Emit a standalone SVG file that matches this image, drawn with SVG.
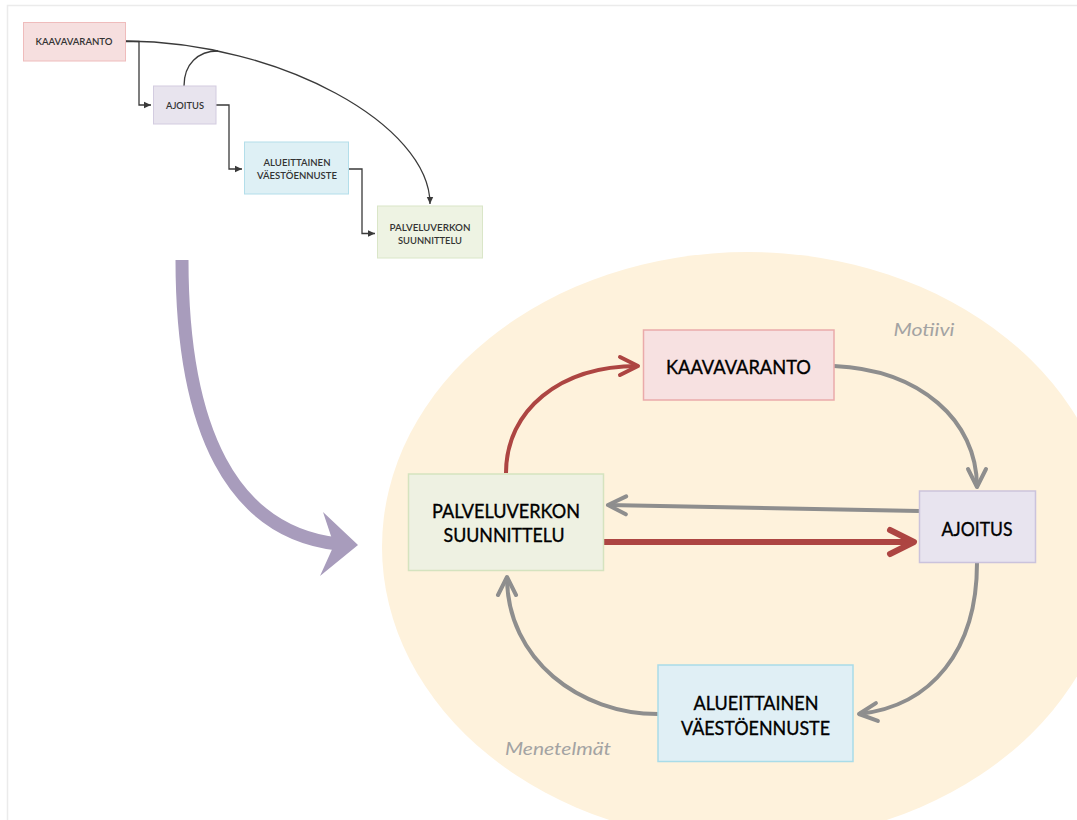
<svg xmlns="http://www.w3.org/2000/svg" width="1077" height="820" viewBox="0 0 1077 820">
<style>
.big{font-family:Lato,"Open Sans","Liberation Sans",sans-serif;font-size:20px;fill:#000;stroke:#000;stroke-width:0.35;text-anchor:middle}
.sm{font-family:Lato,"Open Sans","Liberation Sans",sans-serif;font-size:10px;fill:#333;text-anchor:middle;font-weight:600}
.lbl{font-family:Lato,"Open Sans","Liberation Sans",sans-serif;font-size:17px;fill:#a3a3a3;font-style:italic;text-anchor:middle}
.gc{fill:none;stroke:#8e8e8e;stroke-width:4}
.rc{fill:none;stroke:#ad4542;stroke-width:4}
.sc{fill:none;stroke:#3a3a3a;stroke-width:1.3}
</style>
<defs>
<marker id="gArr" markerUnits="userSpaceOnUse" markerWidth="30" markerHeight="30" refX="18" refY="0" orient="auto" overflow="visible"><path d="M0,-9 L18,0 L0,9" fill="none" stroke="#8e8e8e" stroke-width="4" stroke-linejoin="round" stroke-linecap="round"/></marker>
<marker id="rArr" markerUnits="userSpaceOnUse" markerWidth="30" markerHeight="30" refX="18" refY="0" orient="auto" overflow="visible"><path d="M0,-9 L18,0 L0,9" fill="none" stroke="#ad4542" stroke-width="4" stroke-linejoin="round" stroke-linecap="round"/></marker>
<marker id="rArrB" markerUnits="userSpaceOnUse" markerWidth="40" markerHeight="40" refX="24" refY="0" orient="auto" overflow="visible"><path d="M0,-12 L24,0 L0,12" fill="none" stroke="#ad4542" stroke-width="6" stroke-linejoin="round" stroke-linecap="round"/></marker>
<marker id="sArr" markerUnits="userSpaceOnUse" markerWidth="10" markerHeight="10" refX="7" refY="0" orient="auto" overflow="visible"><path d="M0,-3.2 L7,0 L0,3.2 z" fill="#3a3a3a"/></marker>
</defs>
<rect x="0" y="0" width="1077" height="820" fill="#ffffff"/>
<rect x="7.5" y="5.5" width="1200" height="900" fill="none" stroke="#ebebeb" stroke-width="1.5"/>
<ellipse cx="748" cy="547" rx="366" ry="295" fill="#fef2dc"/>
<text class="lbl" x="924" y="336" textLength="61" lengthAdjust="spacingAndGlyphs">Motiivi</text>
<text class="lbl" x="558" y="755" textLength="106" lengthAdjust="spacingAndGlyphs">Menetelmät</text>
<path d="M182,260 C182,430 232,532 338,544" fill="none" stroke="#a89cbc" stroke-width="13"/>
<polygon points="323,512 358,545 320,576 334,545" fill="#a89cbc"/>
<g id="connectors">
<path class="sc" d="M126,41.5 H139 V105 H151" marker-end="url(#sArr)"/>
<path class="sc" d="M216,105 H229 V169 H242" marker-end="url(#sArr)"/>
<path class="sc" d="M349,169 H362 V233.5 H375" marker-end="url(#sArr)"/>
<path class="sc" d="M126,41 C280,42 430,125 430,204" marker-end="url(#sArr)"/>
<path class="sc" d="M184,86 C184,64 198,51 218,51"/>
<path class="rc" d="M506,473 C506,410 560,366 638,366" marker-end="url(#rArr)"/>
<path class="gc" d="M834,366 C920,370 977,420 977,487" marker-end="url(#gArr)"/>
<path class="gc" d="M919,511 L608,505" marker-end="url(#gArr)"/>
<path d="M604,542 L914,542" fill="none" stroke="#ad4542" stroke-width="6" marker-end="url(#rArrB)"/>
<path class="gc" d="M977,563 C977,650 932,706 859,714" marker-end="url(#gArr)"/>
<path class="gc" d="M658,714 C580,714 507,660 507,577" marker-end="url(#gArr)"/>
</g>
<g id="s-kaava"><rect x="23.5" y="22.5" width="102" height="38.5" fill="#f6dfdf" stroke="#efbcbc"/><text class="sm" x="74" y="45" textLength="77" lengthAdjust="spacingAndGlyphs">KAAVAVARANTO</text></g>
<g id="s-ajoitus"><rect x="153.5" y="86" width="62.5" height="38" fill="#e8e4ee" stroke="#d3cce0"/><text class="sm" x="185" y="109" textLength="38" lengthAdjust="spacingAndGlyphs">AJOITUS</text></g>
<g id="s-alue"><rect x="244.5" y="142" width="104" height="52" fill="#def0f5" stroke="#b3deea"/><text class="sm" x="297" y="165.5" textLength="67" lengthAdjust="spacingAndGlyphs">ALUEITTAINEN</text><text class="sm" x="297" y="179" textLength="80" lengthAdjust="spacingAndGlyphs">VÄESTÖENNUSTE</text></g>
<g id="s-palv"><rect x="377.5" y="206" width="105" height="52" fill="#eef3e3" stroke="#dae6c8"/><text class="sm" x="430" y="230.5" textLength="81" lengthAdjust="spacingAndGlyphs">PALVELUVERKON</text><text class="sm" x="430" y="243.5" textLength="64" lengthAdjust="spacingAndGlyphs">SUUNNITTELU</text></g>
<g id="kaava"><rect x="643.5" y="330" width="190.5" height="70" fill="#f7e1e1" stroke="#eaaaaa" stroke-width="1.5"/><text class="big" x="738.5" y="374" textLength="145" lengthAdjust="spacingAndGlyphs">KAAVAVARANTO</text></g>
<g id="palv"><rect x="408.5" y="474" width="195" height="96.5" fill="#eef1e2" stroke="#d5e3bf" stroke-width="1.5"/><text class="big" x="506" y="518" textLength="148" lengthAdjust="spacingAndGlyphs">PALVELUVERKON</text><text class="big" x="504" y="542" textLength="121" lengthAdjust="spacingAndGlyphs">SUUNNITTELU</text></g>
<g id="ajoitus"><rect x="919.5" y="491" width="116" height="71.5" fill="#e8e4ef" stroke="#cbc3dc" stroke-width="1.5"/><text class="big" x="977" y="536" textLength="71" lengthAdjust="spacingAndGlyphs">AJOITUS</text></g>
<g id="alue"><rect x="658" y="665" width="195" height="96.5" fill="#e0eff5" stroke="#a9dce8" stroke-width="1.5"/><text class="big" x="756" y="710" textLength="125" lengthAdjust="spacingAndGlyphs">ALUEITTAINEN</text><text class="big" x="755.5" y="735" textLength="149" lengthAdjust="spacingAndGlyphs">VÄESTÖENNUSTE</text></g>
</svg>
